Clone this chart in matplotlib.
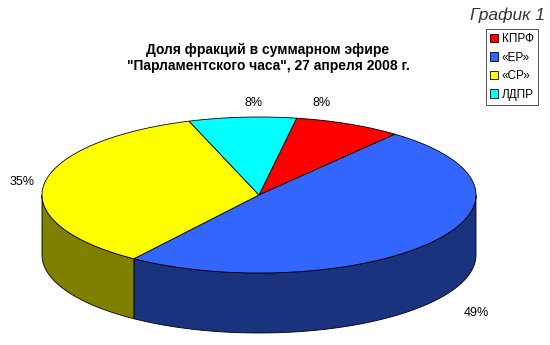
import numpy as np
import matplotlib.pyplot as plt
from matplotlib.patches import Polygon, Patch

plt.rcParams['font.family'] = ['Liberation Sans', 'DejaVu Sans']

# data
parties = ['КПРФ', '«ЕР»', '«СР»', 'ЛДПР']
shares = [8, 49, 35, 8]

top_colors = ['#ff0000', '#3366ff', '#ffff00', '#00ffff']
side_colors = ['#800000', '#1a337f', '#808000', '#008080']

# 3d pie geometry in pixels
cx, cy, rx, ry, depth = 259, 195, 217, 78, 60
start = 80.0

fig = plt.figure(figsize=(5.5, 3.45), dpi=100)
ax = fig.add_axes([0, 0, 1, 1])
ax.set_xlim(0, 550)
ax.set_ylim(345, 0)
ax.axis('off')


def ell(t, dy=0):
    t = np.radians(t)
    return np.column_stack([cx + rx * np.cos(t), cy - ry * np.sin(t) + dy])


total = float(sum(shares))
bounds = start - 360 * np.concatenate([[0], np.cumsum(shares)]) / total

# side walls (front half only)
for i in range(len(shares)):
    lo, hi = bounds[i + 1], bounds[i]
    for k in (-1, 0, 1):
        a = max(lo, -180 + 360 * k)
        b = min(hi, 360 * k)
        if b - a > 0.01:
            t = np.linspace(a, b, 80)
            pts = np.vstack([ell(t), ell(t[::-1], depth)])
            ax.add_patch(Polygon(pts, closed=True, fc=side_colors[i],
                                 ec='black', lw=0.6))

# top faces
for i in range(len(shares)):
    t = np.linspace(bounds[i], bounds[i + 1], 120)
    pts = np.vstack([[cx, cy], ell(t)])
    ax.add_patch(Polygon(pts, closed=True, fc=top_colors[i],
                         ec='black', lw=0.6))

# percentage labels
label_pos = [(322, 103), (476, 313), (22, 182), (254, 103)]
for s, (x, y) in zip(shares, label_pos):
    ax.text(x, y, f'{s}%', ha='center', va='center', fontsize=9)

ax.text(268, 58, 'Доля фракций в суммарном эфире\n"Парламентского часа", 27 апреля 2008 г.',
        ha='center', va='center', fontsize=10, fontweight='bold', linespacing=1.2)
ax.text(545, 15, 'График 1', ha='right', va='center', fontsize=12.5, style='italic',
        color='#333333')

handles = [Patch(fc=c, ec='black', lw=0.6) for c in top_colors]
leg = ax.legend(handles, parties, loc='upper left', bbox_to_anchor=(486 / 550, 1 - 29 / 345),
                bbox_transform=fig.transFigure, fontsize=8.5, frameon=True, fancybox=False,
                handlelength=0.7, handleheight=0.7, handletextpad=0.3, borderpad=0.35,
                labelspacing=0.55, borderaxespad=0)
leg.get_frame().set_edgecolor('black')
leg.get_frame().set_linewidth(0.6)

fig.savefig('out.png', dpi=100)
